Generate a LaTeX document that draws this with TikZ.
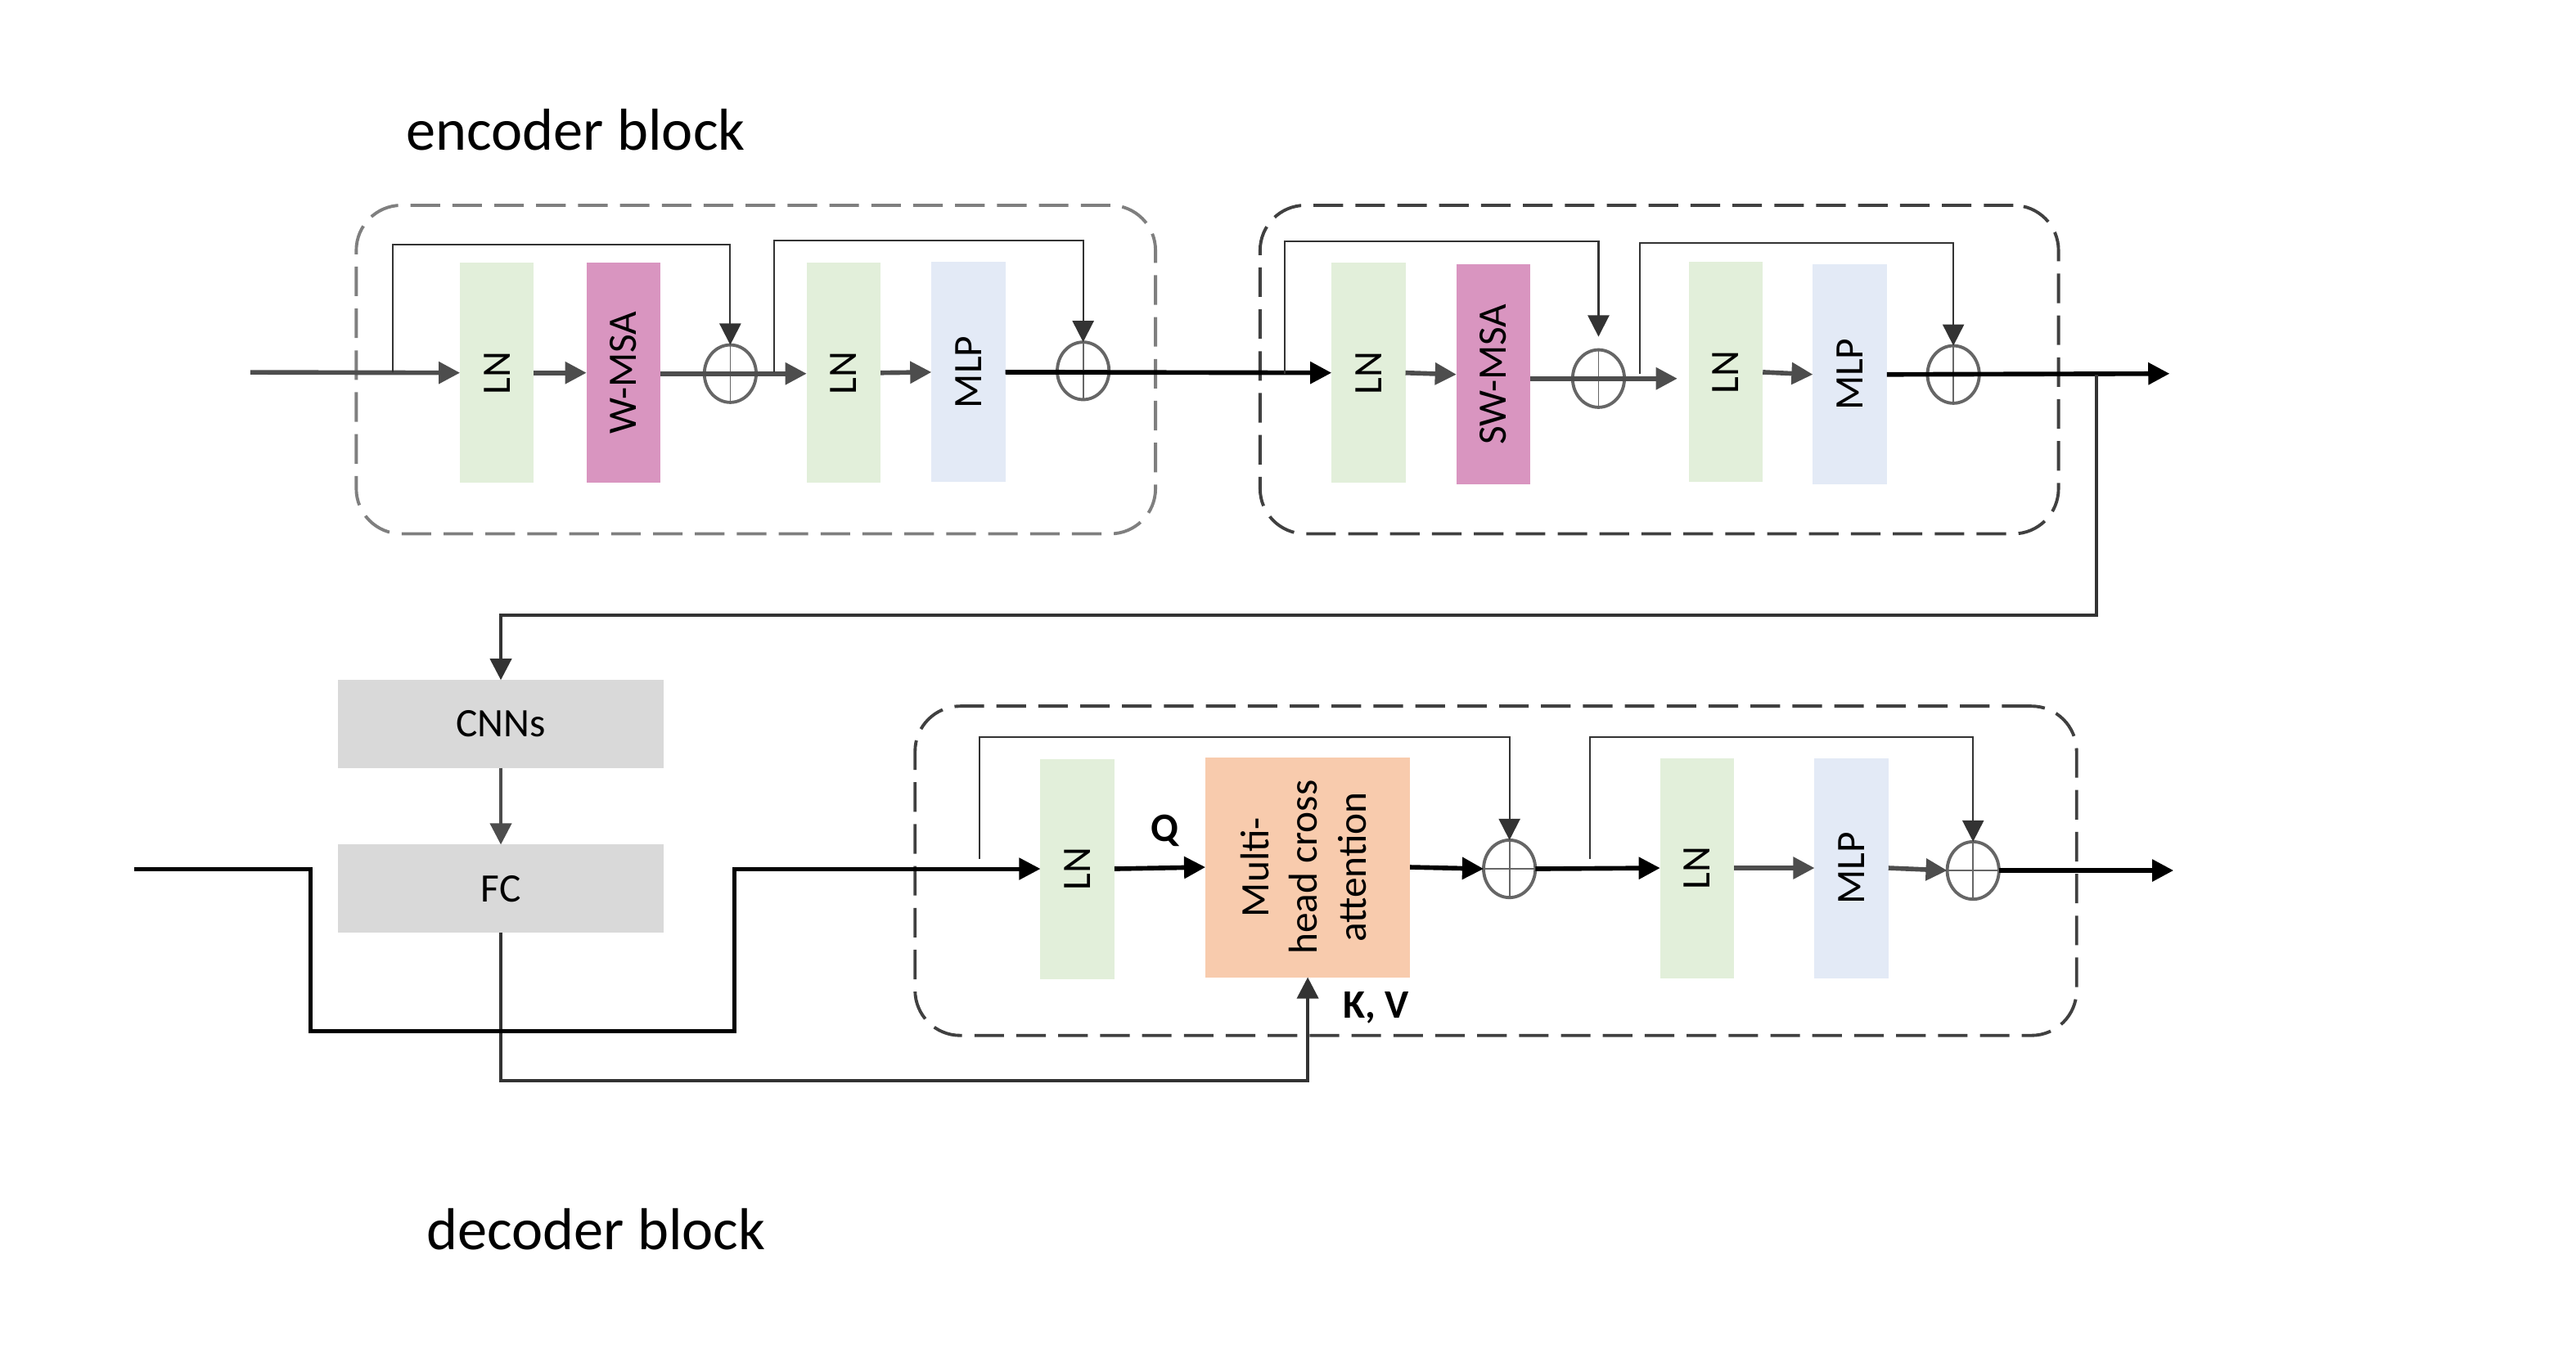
\documentclass[tikz,border=0pt]{standalone}
\usepackage{fontspec}
\setmainfont{Carlito}
\usetikzlibrary{arrows.meta,shapes.geometric}

\definecolor{lngreen}{HTML}{E2EFDA}
\definecolor{msapink}{HTML}{D995C0}
\definecolor{mlpblue}{HTML}{E3EAF6}
\definecolor{attnorange}{HTML}{F8CBAD}
\definecolor{cnngray}{HTML}{D9D9D9}
\definecolor{lightframe}{HTML}{7F7F7F}
\definecolor{darkframe}{HTML}{404040}
\definecolor{flowgray}{HTML}{4D4D4D}
\definecolor{wiregray}{HTML}{333333}
\definecolor{addgray}{HTML}{666666}

% rotated layer label
\newcommand{\vlabel}[1]{\rotatebox{90}{\fontsize{14}{16.8}\selectfont #1}}

\begin{document}
\begin{tikzpicture}[x=0.2mm,y=-0.2mm,
  layer/.style={draw=none, inner sep=0pt, outer sep=0pt, minimum width=9mm, minimum height=26.8mm},
  lnbox/.style={layer, fill=lngreen},
  msabox/.style={layer, fill=msapink},
  mlpbox/.style={layer, fill=mlpblue},
  attnbox/.style={layer, fill=attnorange, minimum width=24.9mm},
  cnnbox/.style={draw=none, fill=cnngray, inner sep=0pt, outer sep=0pt, minimum width=39.7mm, minimum height=10.7mm, font=\fontsize{14}{16}\selectfont},
  addop/.style={ellipse, draw=addgray, line width=1.1pt, minimum width=6.3mm, minimum height=7mm, inner sep=0pt, outer sep=0pt,
    path picture={\draw[addgray, line width=0.5pt]
      (path picture bounding box.north) -- (path picture bounding box.south)
      (path picture bounding box.west) -- (path picture bounding box.east);}},
  frame/.style={rounded corners=5.5mm, line width=1.1pt, dash pattern=on 3.6mm off 1.5mm, inner sep=0pt, outer sep=0pt, minimum height=40mm},
  tip/.style={-{Triangle[length=2.6mm,width=2.6mm]}},
  gflow/.style={tip, draw=flowgray, line width=1.6pt},
  bflow/.style={tip, draw=black, line width=1.6pt},
  skip/.style={tip, draw=wiregray, line width=0.6pt},
  wire/.style={tip, draw=wiregray, line width=1.1pt},
  title/.style={anchor=base, inner sep=0pt, font=\fontsize{20.5}{24}\selectfont},
  tag/.style={inner sep=0pt, font=\fontsize{14}{16}\selectfont\bfseries}
]
\useasboundingbox (0,0) rectangle (1568,826.35);

% ---------- titles ----------
\node[title] (enctitle) at (350.5,91.3) {encoder block};
\node[title] (dectitle) at (362.8,761) {decoder block};

% ---------- dashed block frames ----------
\node[frame, draw=lightframe, minimum width=97.3mm] (enc1) at (460.1,225) {};
\node[frame, draw=darkframe, minimum width=97.2mm] (enc2) at (1010,225) {};
\node[frame, draw=darkframe, minimum width=141.4mm, minimum height=40.1mm] (dec) at (910.5,530.2) {};

% ---------- encoder block (W-MSA) ----------
\node[lnbox]  (ln1)  at (302.5,227) {\vlabel{LN}};
\node[msabox] (wmsa) at (379.5,227) {\vlabel{W-MSA}};
\node[addop]  (p1)   at (444.5,227.5) {};
\node[lnbox]  (ln2)  at (513.5,227) {\vlabel{LN}};
\node[mlpbox] (mlp1) at (589.5,226.6) {\vlabel{MLP}};
\node[addop]  (p2)   at (659.3,225.8) {};

% ---------- encoder block (SW-MSA) ----------
\node[lnbox]  (ln3)   at (833,227) {\vlabel{LN}};
\node[msabox] (swmsa) at (909,228) {\vlabel{SW-MSA}};
\node[addop]  (p3)    at (973,230.5) {};
\node[lnbox]  (ln4)   at (1050.5,226.6) {\vlabel{LN}};
\node[mlpbox] (mlp2)  at (1126,228) {\vlabel{MLP}};
\node[addop]  (p4)    at (1189,228) {};

% ---------- CNN branch ----------
\node[cnnbox] (cnn) at (304.85,440.8) {CNNs};
\node[cnnbox] (fc)  at (304.85,541) {FC};

% ---------- decoder block ----------
\node[lnbox]   (ln5)  at (655.8,529) {\vlabel{LN}};
\node[attnbox] (mhca) at (796,528) {\vlabel{\begin{tabular}{@{}c@{}}Multi-\\head cross\\attention\end{tabular}}};
\node[addop]   (p5)   at (918.8,529) {};
\node[lnbox]   (ln6)  at (1033,528.5) {\vlabel{LN}};
\node[mlpbox]  (mlp3) at (1127,528.5) {\vlabel{MLP}};
\node[addop]   (p6)   at (1201,530) {};

\node[tag] (qlabel)  at (709,506) {Q};
\node[tag] (kvlabel) at (837.6,613.7) {K, V};

% ---------- free ends and branch points ----------
\coordinate (in1)  at (152.4,226.7);
\coordinate (out1) at (1320.6,227.5);
\coordinate (s1)   at (239,226.7);
\coordinate (s2)   at (471,226.7);
\coordinate (s3)   at (782,227.5);
\coordinate (s4)   at (998,227.5);
\coordinate (b1)   at (1276,228);
\coordinate (in2)  at (81.7,529);
\coordinate (out2) at (1323,530);
\coordinate (s5)   at (596.4,523);
\coordinate (s6)   at (968,523);

% ---------- encoder flow ----------
\draw[gflow] (in1) -- (ln1.west);
\draw[gflow] (ln1.east) -- (wmsa.west);
\draw[gflow] (wmsa.east |- p1) -- (ln2.west |- p1);
\draw[gflow] (ln2.east) -- (mlp1.west);
\draw[bflow] (mlp1.east) -- (ln3.west);
\draw[gflow] (ln3.east) -- (swmsa.west);
\draw[gflow, shorten >=1.4mm] (swmsa.east |- p3) -- (ln4.west |- p3);
\draw[gflow] (ln4.east) -- (mlp2.west);
\draw[bflow] (mlp2.east) -- (out1);

% residual connections
\draw[skip] (s1) -- ++(0,-77.9) -| (p1.north);
\draw[skip] (s2) -- ++(0,-80.2) -| (p2.north);
\draw[skip, shorten >=1.6mm] (s3) -- ++(0,-80.5) -| (p3.north);
\draw[skip] (s4) -- ++(0,-79.7) -| (p4.north);

% ---------- encoder output into the CNN branch ----------
\draw[wire] (b1) -- (1276,374.6) -| (cnn.north);
\draw[wire, draw=flowgray] (cnn.south) -- (fc.north);
\draw[wire] (fc.south) -- (304.85,658) -| (mhca.south);

% ---------- decoder flow ----------
\draw[bflow, line width=1.4pt] (in2) -- (189,529) -- (189,628) -- (447,628) -- (447,529) -- (ln5.west);
\draw[bflow] (ln5.east) -- (mhca.west);
\draw[bflow] (mhca.east) -- (p5.west);
\draw[bflow] (p5.east) -- (ln6.west);
\draw[gflow] (ln6.east) -- (mlp3.west);
\draw[gflow] (mlp3.east) -- (p6.west);
\draw[bflow] (p6.east) -- (out2);

\draw[skip] (s5) -- ++(0,-74) -| (p5.north);
\draw[skip] (s6) -- ++(0,-74.4) -| (p6.north);
\end{tikzpicture}
\end{document}
